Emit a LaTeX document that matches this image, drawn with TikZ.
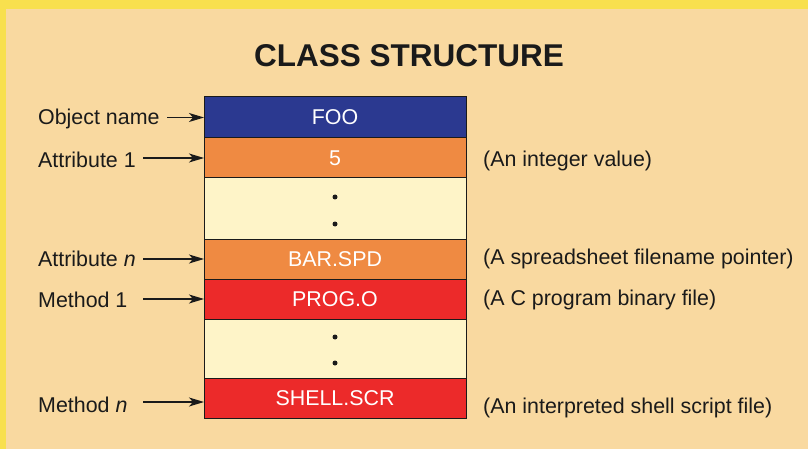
\documentclass[tikz,border=0pt]{standalone}
\usepackage{fontspec}
\setmainfont{Liberation Sans}
\usetikzlibrary{arrows.meta}
\definecolor{bg}{HTML}{F9D9A0}
\definecolor{edge}{HTML}{F8E04E}
\definecolor{cblue}{HTML}{2B3990}
\definecolor{corange}{HTML}{EF8A42}
\definecolor{cred}{HTML}{EC2A2A}
\definecolor{ccream}{HTML}{FEF4C8}
\definecolor{ink}{HTML}{1A1A1A}
\tikzset{
  row/.style={draw=ink, line width=1pt, minimum width=262pt, inner sep=0pt, outer sep=0pt, text=white, font=\fontsize{21.4}{21.4}\selectfont},
  lbl/.style={anchor=west, inner sep=0pt, text=ink, font=\fontsize{21.4}{21.4}\selectfont},
  arr/.style={-{Stealth[length=15pt,width=9pt,inset=4pt]}, line width=1.2pt, draw=ink},
  dotc/.style={circle, fill=ink, inner sep=0pt, minimum size=5pt}
}
\begin{document}
\begin{tikzpicture}[x=1pt,y=-1pt]
\useasboundingbox (0,0) rectangle (808,449);
\fill[edge] (0,0) rectangle (808,449);
\fill[bg] (6,9) rectangle (808,449);
\node[font=\bfseries\fontsize{31.5}{31.5}\selectfont, text=ink] (title) at (409,56) {CLASS STRUCTURE};
% rows
\node[row, fill=cblue, minimum height=41pt] (foo) at (335,117.5) {FOO};
\node[row, fill=corange, minimum height=40pt] (five) at (335,158) {5};
\node[row, fill=ccream, minimum height=61pt] (blank1) at (335,208.5) {};
\node[row, fill=corange, minimum height=40pt] (bar) at (335,259) {BAR.SPD};
\node[row, fill=cred, minimum height=40pt] (prog) at (335,299) {PROG.O};
\node[row, fill=ccream, minimum height=59pt] (blank2) at (335,348.5) {};
\node[row, fill=cred, minimum height=40pt] (shell) at (335,398) {SHELL.SCR};
% dots
\node[dotc] (d1) at (335,197) {};
\node[dotc] (d2) at (335,224) {};
\node[dotc] (d3) at (335,337) {};
\node[dotc] (d4) at (335,363) {};
% left labels
\node[lbl] (lobj) at (38,119) {Object name};
\node[lbl] (latt1) at (38,160) {Attribute 1};
\node[lbl] (lattn) at (38,259) {Attribute \textit{n}};
\node[lbl] (lm1) at (38,300) {Method 1};
\node[lbl] (lmn) at (38,405) {Method \textit{n}};
% arrow starts
\coordinate (sx) at (143,0);
\coordinate (sobj) at (167,0);
\draw[arr] (sobj |- foo.west) -- (foo.west);
\draw[arr] (sx |- five.west) -- (five.west);
\draw[arr] (sx |- bar.west) -- (bar.west);
\draw[arr] (sx |- prog.west) -- (prog.west);
\coordinate (mn) at (0,402);
\draw[arr] (sx |- mn) -- (shell.west |- mn);
% right labels
\node[lbl] (r1) at (483,161) {(An integer value)};
\node[lbl] (r2) at (483,259) {(A spreadsheet filename pointer)};
\node[lbl] (r3) at (483,300) {(A C program binary file)};
\node[lbl] (r4) at (483,408) {(An interpreted shell script file)};
\end{tikzpicture}
\end{document}
